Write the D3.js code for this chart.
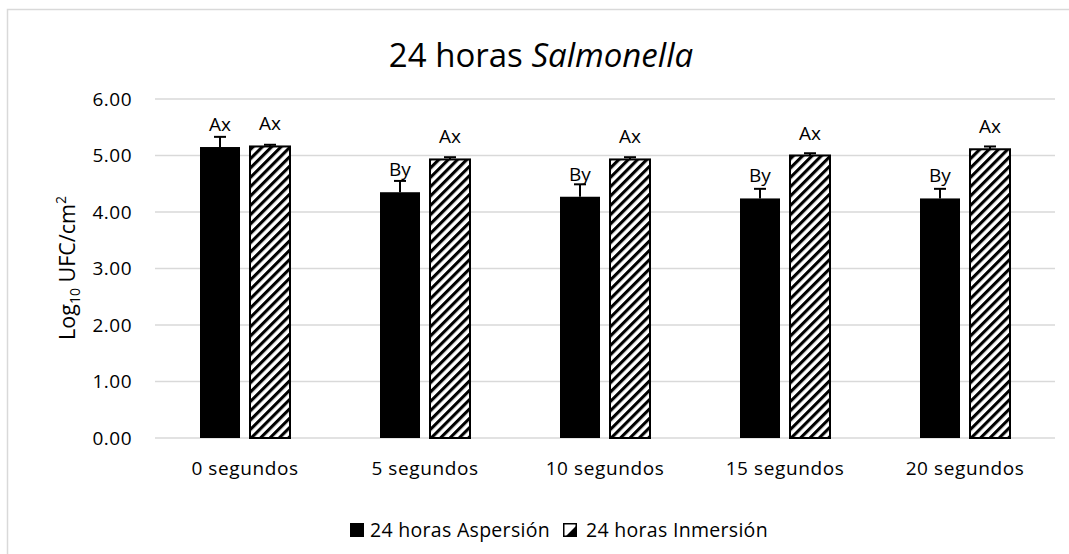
<!DOCTYPE html>
<html>
<head>
<meta charset="utf-8">
<script src="https://cdn.jsdelivr.net/npm/d3@7"></script>
<style>
  html, body { margin: 0; padding: 0; background: #fff; }
  svg { display: block; font-family: "Open Sans", "Noto Sans", sans-serif; }
</style>
</head>
<body>
<svg id="chart" width="1069" height="554"></svg>
<script>
const categories = ["0 segundos", "5 segundos", "10 segundos", "15 segundos", "20 segundos"];
const seriesNames = ["24 horas Aspersión", "24 horas Inmersión"];
const aspersion = [5.15, 4.35, 4.27, 4.24, 4.24];
const aspersionErr = [0.18, 0.20, 0.22, 0.17, 0.17];
const inmersion = [5.16, 4.93, 4.93, 5.00, 5.11];
const inmersionErr = [0.03, 0.04, 0.04, 0.04, 0.05];
const aspersionLabels = ["Ax", "By", "By", "By", "By"];
const inmersionLabels = ["Ax", "Ax", "Ax", "Ax", "Ax"];
const yTicks = [0, 1, 2, 3, 4, 5, 6];

const svg = d3.select("#chart");
const W = 1069, H = 554;
const m = { left: 155, right: 1055, top: 99, bottom: 438 };
const FS = 19;

// outer chart border
svg.append("rect").attr("x", 7.5).attr("y", 9.5).attr("width", W + 10).attr("height", H + 10)
  .attr("fill", "none").attr("stroke", "#d9d9d9").attr("stroke-width", 1.5);

// hatch pattern
const defs = svg.append("defs");
const pat = defs.append("pattern").attr("id", "hatch").attr("patternUnits", "userSpaceOnUse")
  .attr("width", 6.6).attr("height", 6.6).attr("patternTransform", "rotate(45)");
pat.append("rect").attr("width", 6.6).attr("height", 6.6).attr("fill", "#fff");
pat.append("rect").attr("x", 0).attr("y", 0).attr("width", 3.1).attr("height", 6.6).attr("fill", "#000");

const x0 = d3.scaleBand().domain(categories).range([m.left, m.right]).padding(0);
const x1 = d3.scaleBand().domain(seriesNames)
  .range([x0.bandwidth() * 0.25, x0.bandwidth() * 0.75]).paddingInner(0.2);
const y = d3.scaleLinear().domain([0, 6]).range([m.bottom, m.top]);

// gridlines
svg.append("g").selectAll("line").data(yTicks).join("line")
  .attr("x1", m.left).attr("x2", m.right)
  .attr("y1", d => y(d)).attr("y2", d => y(d))
  .attr("stroke", "#d9d9d9").attr("stroke-width", 1.5);

// y axis labels
const yAxis = d3.axisLeft(y).tickValues(yTicks).tickFormat(d3.format(".2f")).tickSize(0).tickPadding(23);
const yg = svg.append("g").attr("transform", `translate(${m.left},0)`).call(yAxis);
yg.select(".domain").remove();
yg.selectAll("text").attr("font-size", FS).attr("fill", "#000").attr("font-family", "Open Sans")
  .attr("letter-spacing", 0.5);

// x axis labels
const xAxis = d3.axisBottom(x0).tickSize(0).tickPadding(24);
const xg = svg.append("g").attr("transform", `translate(0,${m.bottom})`).call(xAxis);
xg.select(".domain").remove();
xg.selectAll("text").attr("font-size", FS).attr("fill", "#000").attr("font-family", "Open Sans")
  .attr("letter-spacing", 0.6);

const data = categories.map((c, i) => ({
  cat: c,
  bars: [
    { s: seriesNames[0], v: aspersion[i], e: aspersionErr[i], lab: aspersionLabels[i] },
    { s: seriesNames[1], v: inmersion[i], e: inmersionErr[i], lab: inmersionLabels[i] }
  ]
}));

const groups = svg.append("g").selectAll("g").data(data).join("g")
  .attr("transform", d => `translate(${x0(d.cat)},0)`);

groups.selectAll("rect").data(d => d.bars).join("rect")
  .attr("x", d => x1(d.s)).attr("width", x1.bandwidth())
  .attr("y", d => y(d.v)).attr("height", d => y(0) - y(d.v))
  .attr("fill", (d, i) => i === 0 ? "#000" : "url(#hatch)")
  .attr("stroke", "#000").attr("stroke-width", (d, i) => i === 0 ? 0 : 2);

// error bars
const eb = groups.selectAll("g.eb").data(d => d.bars).join("g").attr("class", "eb");
eb.append("line")
  .attr("x1", d => x1(d.s) + x1.bandwidth() / 2).attr("x2", d => x1(d.s) + x1.bandwidth() / 2)
  .attr("y1", d => y(d.v)).attr("y2", d => y(d.v + d.e))
  .attr("stroke", "#000").attr("stroke-width", 2);
eb.append("line")
  .attr("x1", d => x1(d.s) + x1.bandwidth() / 2 - 6).attr("x2", d => x1(d.s) + x1.bandwidth() / 2 + 6)
  .attr("y1", d => y(d.v + d.e)).attr("y2", d => y(d.v + d.e))
  .attr("stroke", "#000").attr("stroke-width", 2);

// data labels
groups.selectAll("text.lab").data(d => d.bars).join("text").attr("class", "lab")
  .attr("x", d => x1(d.s) + x1.bandwidth() / 2)
  .attr("y", d => y(d.v) - 16)
  .attr("text-anchor", "middle").attr("font-size", FS).attr("fill", "#000")
  .text(d => d.lab);

// title
const title = svg.append("text").attr("x", 541).attr("y", 67).attr("text-anchor", "middle")
  .attr("font-size", 33).attr("fill", "#000");
title.append("tspan").text("24 horas ");
title.append("tspan").attr("font-style", "italic").text("Salmonella");

// y axis title
const yt = svg.append("text").attr("transform", "translate(75,268) rotate(-90)")
  .attr("text-anchor", "middle").attr("font-size", 21.5).attr("fill", "#000");
yt.append("tspan").text("Log");
yt.append("tspan").attr("font-size", 14).attr("dy", 5).text("10");
yt.append("tspan").attr("dy", -5).text(" UFC/cm");
yt.append("tspan").attr("font-size", 14).attr("dy", -9).text("2");

// legend
const leg = svg.append("g").attr("transform", "translate(350,523)");
const li0 = leg.append("g");
li0.append("rect").attr("width", 14).attr("height", 14).attr("fill", "#000");
li0.append("text").attr("x", 20).attr("y", 13.5).attr("font-size", 19.5).attr("fill", "#000")
  .attr("letter-spacing", 0.3).text(seriesNames[0]);
const li1 = leg.append("g").attr("transform", "translate(213,0)");
li1.append("rect").attr("x", 0.75).attr("y", 0.75).attr("width", 12.5).attr("height", 12.5)
  .attr("fill", "#fff").attr("stroke", "#000").attr("stroke-width", 1.5);
li1.append("path").attr("d", "M13,3 L13,13 L3,13 Z").attr("fill", "#000");
li1.append("text").attr("x", 23).attr("y", 13.5).attr("font-size", 19.5).attr("fill", "#000")
  .attr("letter-spacing", 0.3).text(seriesNames[1]);
</script>
</body>
</html>
